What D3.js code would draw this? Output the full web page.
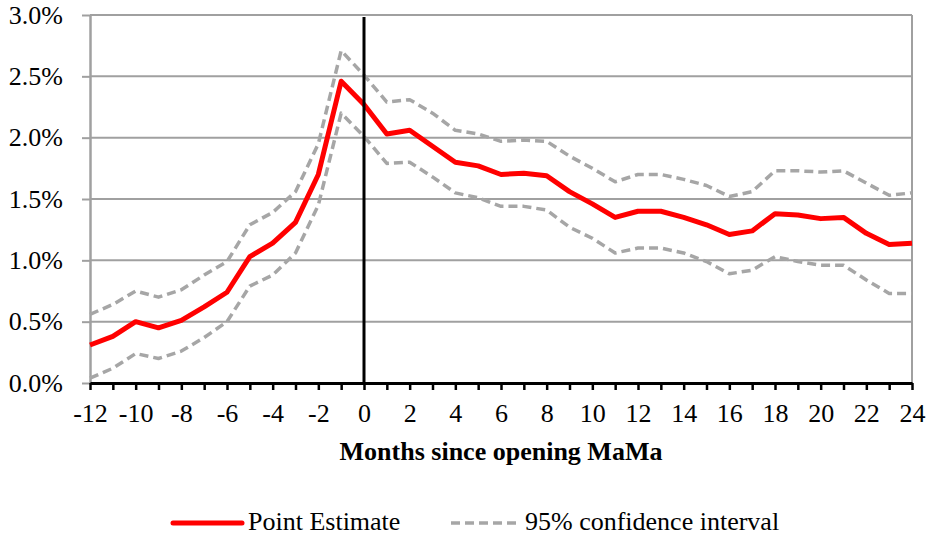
<!DOCTYPE html>
<html>
<head>
<meta charset="utf-8">
<title>Months since opening MaMa</title>
<script src="https://d3js.org/d3.v7.min.js"></script>
<style>
  body { margin: 0; background: #fff; }
  text { font-family: "Liberation Serif", "Times New Roman", serif; fill: #000; }
</style>
</head>
<body>
<div id="chart"></div>
<script>

// months relative to opening
var months = d3.range(-12, 25);

// point estimate, in percent
var pointEstimate = [0.31, 0.38, 0.50, 0.45, 0.51, 0.62, 0.74, 1.03, 1.14, 1.31, 1.70, 2.46, 2.27,
  2.03, 2.06, 1.93, 1.80, 1.77, 1.70, 1.71, 1.69, 1.56, 1.46, 1.35, 1.40,
  1.40, 1.35, 1.29, 1.21, 1.24, 1.38, 1.37, 1.34, 1.35, 1.22, 1.13, 1.14];

// 95% confidence bounds
var upperCI = [0.56, 0.64, 0.75, 0.70, 0.76, 0.88, 0.99, 1.29, 1.39, 1.56, 1.95, 2.71, 2.51,
  2.29, 2.31, 2.20, 2.06, 2.03, 1.97, 1.98, 1.97, 1.85, 1.75, 1.64, 1.70,
  1.70, 1.66, 1.61, 1.52, 1.56, 1.73, 1.73, 1.72, 1.73, 1.63, 1.53, 1.55];

var lowerCI = [0.04, 0.12, 0.24, 0.20, 0.26, 0.37, 0.50, 0.79, 0.88, 1.06, 1.45, 2.20, 2.01,
  1.79, 1.80, 1.68, 1.55, 1.51, 1.44, 1.44, 1.41, 1.27, 1.18, 1.06, 1.10,
  1.10, 1.06, 0.99, 0.89, 0.92, 1.03, 0.99, 0.96, 0.96, 0.84, 0.73, 0.73];

var yTicks = [0, 0.5, 1.0, 1.5, 2.0, 2.5, 3.0];
var xLabels = d3.range(-12, 25, 2);

var W = 928, H = 540;
var margin = {top: 15, right: 16, bottom: 157, left: 90};
var width = W - margin.left - margin.right,
    height = H - margin.top - margin.bottom;
var serif = "'Liberation Serif', 'Times New Roman', serif";

var svg = d3.select("#chart")
  .append("svg")
    .attr("width", W)
    .attr("height", H);

var g = svg.append("g")
  .attr("transform", "translate(" + margin.left + "," + margin.top + ")");

var x = d3.scaleLinear().domain([-12, 24]).range([0, width]);
var y = d3.scaleLinear().domain([0, 3]).range([height, 0]);

// horizontal gridlines
g.selectAll(".grid")
  .data(yTicks.slice(1))
  .enter()
  .append("line")
    .attr("x1", 0)
    .attr("x2", width)
    .attr("y1", function(d) { return y(d); })
    .attr("y2", function(d) { return y(d); })
    .attr("stroke", "#a0a0a0")
    .attr("stroke-width", 2);

// right frame
g.append("line")
  .attr("x1", width).attr("x2", width)
  .attr("y1", 0).attr("y2", height)
  .attr("stroke", "#a0a0a0").attr("stroke-width", 2);

// y axis (gray, with short ticks)
var yAxis = g.append("g")
  .attr("font-family", serif)
  .call(d3.axisLeft(y).tickValues(yTicks).tickSize(8).tickSizeOuter(0).tickPadding(19)
    .tickFormat(function(d) { return d3.format(".1f")(d) + "%"; }));
yAxis.select(".domain").attr("stroke", "#a0a0a0").attr("stroke-width", 2.5);
yAxis.selectAll(".tick line").attr("stroke", "#a0a0a0").attr("stroke-width", 2);
yAxis.selectAll("text")
  .style("font-size", "26px")
  .attr("dy", "0.32em");

// series lines
var line = d3.line()
  .x(function(d, i) { return x(months[i]); })
  .y(function(d) { return y(d); });

[upperCI, lowerCI].forEach(function(s) {
  g.append("path")
    .datum(s)
    .attr("fill", "none")
    .attr("stroke", "#a6a6a6")
    .attr("stroke-width", 3.5)
    .attr("stroke-dasharray", "9,5")
    .attr("stroke-linejoin", "round")
    .attr("d", line);
});

g.append("path")
  .datum(pointEstimate)
  .attr("fill", "none")
  .attr("stroke", "#ff0000")
  .attr("stroke-width", 5)
  .attr("stroke-linejoin", "round")
  .attr("d", line);

// vertical line at opening
g.append("line")
  .attr("x1", x(0)).attr("x2", x(0))
  .attr("y1", 2).attr("y2", height)
  .attr("stroke", "#000").attr("stroke-width", 3);

// x axis
var xAxis = g.append("g")
  .attr("transform", "translate(0," + height + ")")
  .attr("font-family", serif)
  .call(d3.axisBottom(x).tickValues(months).tickSize(7).tickSizeOuter(0).tickPadding(14)
    .tickFormat(function(d) { return xLabels.indexOf(d) >= 0 ? d : ""; }));
xAxis.select(".domain").attr("stroke", "#000").attr("stroke-width", 3);
xAxis.selectAll(".tick line").attr("stroke", "#000").attr("stroke-width", 2.5);
xAxis.selectAll("text").style("font-size", "26px");

// axis title
svg.append("text")
  .attr("x", margin.left + width / 2)
  .attr("y", 460)
  .attr("text-anchor", "middle")
  .style("font-size", "26px")
  .style("font-weight", "bold")
  .text("Months since opening MaMa");

// legend
var legend = svg.append("g");
legend.append("line")
  .attr("x1", 173).attr("x2", 242)
  .attr("y1", 523).attr("y2", 523)
  .attr("stroke", "#ff0000").attr("stroke-width", 5)
  .attr("stroke-linecap", "round");
legend.append("text")
  .attr("x", 248).attr("y", 530)
  .style("font-size", "26px")
  .text("Point Estimate");
legend.append("line")
  .attr("x1", 451).attr("x2", 521)
  .attr("y1", 523).attr("y2", 523)
  .attr("stroke", "#a6a6a6").attr("stroke-width", 3.5)
  .attr("stroke-dasharray", "9,5");
legend.append("text")
  .attr("x", 525).attr("y", 530)
  .style("font-size", "26px")
  .text("95% confidence interval");

</script>
</body>
</html>
